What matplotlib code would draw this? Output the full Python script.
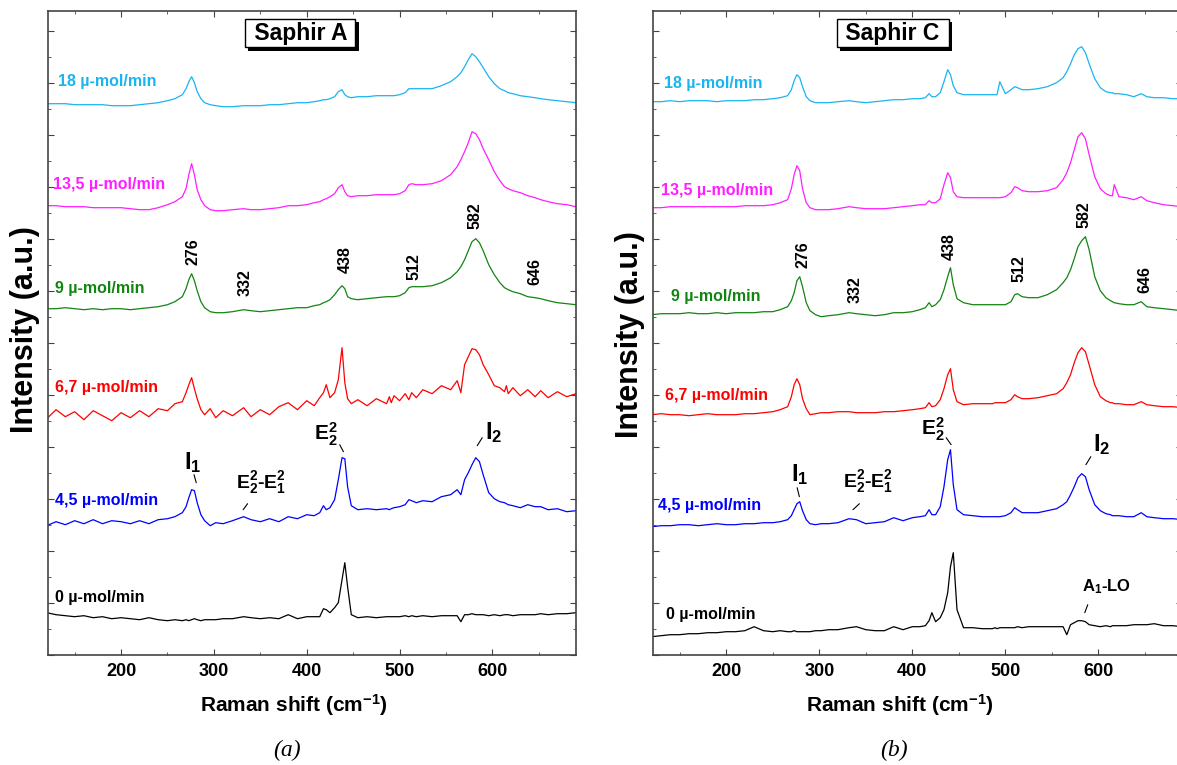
import matplotlib
matplotlib.use("Agg")
import matplotlib.pyplot as plt
import matplotlib.patheffects as pe
from matplotlib.ticker import MultipleLocator

plt.rcParams['font.family'] = ['Liberation Sans', 'DejaVu Sans']
plt.rcParams['font.weight'] = 'bold'
plt.rcParams['mathtext.fontset'] = 'custom'
plt.rcParams['mathtext.rm'] = 'Liberation Sans:bold'
plt.rcParams['mathtext.bf'] = 'Liberation Sans:bold'
plt.rcParams['mathtext.it'] = 'Liberation Sans:bold'

# Raman shift grid (cm-1), shared by all spectra
shift = [
    120, 130, 140, 150, 160, 170, 180, 190, 200, 210,
    220, 230, 240, 250, 258, 266, 270, 273, 276, 279,
    282, 286, 290, 296, 302, 310, 320, 332, 340, 350,
    360, 370, 380, 390, 400, 408, 414, 418, 421, 425,
    430, 434, 438, 441, 444, 448, 455, 465, 475, 486,
    489, 491, 494, 500, 506, 510, 513, 518, 525, 535,
    545, 555, 562, 566, 570, 574, 578, 582, 586, 590,
    596, 602, 608, 613, 615, 617, 622, 630, 638, 646,
    652, 660, 670, 680, 690]

rates = ['18 µ-mol/min', '13,5 µ-mol/min', '9 µ-mol/min',
         '6,7 µ-mol/min', '4,5 µ-mol/min', '0 µ-mol/min']
colors = ['#1AB4F0', '#FF1EFF', '#128412', '#FF0000', '#0000FF', '#000000']

# ---- Saphir A (stacked intensities, a.u.)
a_18 = [
    551, 551, 551, 550, 550, 550, 550, 549, 549, 549,
    550, 551, 552, 554, 556, 560, 566, 573, 578, 572,
    563, 556, 552, 550, 549, 548, 548, 549, 549, 549,
    550, 550, 551, 552, 552, 553, 554, 555, 555, 556,
    558, 563, 565, 560, 558, 557, 558, 558, 559, 559,
    559, 559, 559, 560, 562, 566, 566, 566, 566, 566,
    569, 573, 578, 582, 588, 595, 601, 598, 593, 587,
    578, 571, 566, 564, 563, 562, 561, 559, 558, 557,
    556, 555, 554, 553, 552]
a_13 = [
    449, 449, 448, 448, 448, 447, 447, 447, 447, 446,
    445, 445, 447, 450, 453, 458, 466, 480, 491, 480,
    465, 455, 449, 445, 444, 444, 445, 446, 445, 445,
    446, 447, 449, 449, 450, 452, 453, 455, 456, 458,
    461, 467, 470, 463, 459, 458, 459, 459, 460, 460,
    460, 460, 460, 461, 464, 470, 471, 470, 470, 471,
    474, 480, 488, 495, 503, 512, 523, 521, 515, 506,
    495, 483, 474, 468, 467, 466, 464, 462, 459, 457,
    455, 453, 451, 450, 448]
a_9 = [
    346, 346, 347, 346, 345, 346, 345, 346, 346, 345,
    346, 347, 348, 350, 353, 358, 366, 375, 381, 374,
    364, 353, 347, 343, 342, 342, 343, 345, 344, 343,
    344, 345, 346, 347, 347, 349, 350, 352, 353, 355,
    360, 365, 369, 366, 358, 356, 355, 356, 357, 358,
    358, 358, 358, 359, 362, 367, 368, 368, 368, 369,
    372, 377, 383, 388, 395, 404, 413, 416, 412, 404,
    390, 380, 372, 367, 366, 365, 363, 361, 358, 357,
    356, 354, 352, 351, 350]
a_67 = [
    236, 245, 238, 243, 235, 244, 239, 234, 242, 237,
    244, 238, 246, 244, 251, 253, 262, 270, 277, 266,
    256, 245, 240, 246, 237, 244, 239, 247, 238, 245,
    240, 248, 252, 245, 254, 249, 257, 262, 270, 257,
    262, 275, 307, 272, 256, 251, 255, 249, 256, 251,
    258, 252, 259, 254, 261, 255, 262, 257, 265, 261,
    269, 265, 274, 262, 290, 298, 306, 305, 300, 290,
    280, 269, 267, 263, 269, 261, 267, 259, 265, 258,
    264, 257, 263, 258, 261]
a_45 = [
    129, 133, 130, 134, 131, 135, 131, 134, 133, 131,
    134, 131, 135, 136, 138, 142, 148, 157, 165, 164,
    152, 140, 134, 129, 132, 131, 134, 138, 135, 133,
    136, 133, 138, 136, 140, 139, 142, 149, 145, 147,
    155, 175, 197, 196, 168, 149, 145, 146, 145, 146,
    145, 146, 147, 148, 150, 155, 154, 152, 154, 153,
    158, 160, 165, 160, 175, 182, 190, 197, 193, 180,
    162, 156, 153, 152, 151, 150, 149, 147, 150, 148,
    148, 145, 146, 143, 144]
a_0 = [
    42, 40, 39, 38, 39, 37, 38, 36, 37, 36,
    35, 37, 35, 34, 35, 34, 35, 34, 35, 36,
    35, 34, 35, 35, 35, 36, 36, 38, 37, 36,
    37, 36, 40, 36, 38, 38, 38, 46, 45, 42,
    47, 52, 75, 92, 68, 40, 37, 38, 37, 38,
    38, 38, 38, 38, 39, 38, 39, 38, 39, 38,
    39, 39, 39, 33, 40, 40, 41, 40, 40, 40,
    39, 40, 39, 40, 40, 40, 39, 40, 40, 40,
    41, 40, 41, 41, 42]

# ---- Saphir C
c_18 = [
    553, 553, 554, 553, 554, 554, 554, 553, 554, 554,
    554, 555, 555, 556, 557, 559, 565, 574, 580, 577,
    568, 558, 554, 552, 552, 552, 553, 554, 553, 552,
    553, 554, 555, 555, 556, 556, 557, 561, 558, 558,
    562, 573, 585, 580, 569, 562, 560, 560, 560, 560,
    560, 560, 573, 561, 565, 568, 567, 565, 565, 566,
    568, 572, 577, 583, 591, 600, 606, 608, 602, 591,
    576, 567, 563, 562, 562, 561, 561, 560, 558, 561,
    558, 557, 557, 556, 556]
c_13 = [
    447, 447, 448, 448, 448, 448, 448, 448, 448, 448,
    449, 449, 449, 450, 452, 455, 466, 480, 489, 484,
    466, 452, 447, 445, 445, 445, 446, 448, 447, 446,
    446, 446, 447, 448, 449, 450, 450, 454, 452, 452,
    456, 470, 482, 477, 463, 458, 457, 457, 457, 457,
    457, 457, 457, 458, 462, 468, 467, 464, 463, 463,
    464, 467, 475, 482, 492, 505, 518, 522, 516, 500,
    478, 466, 461, 459, 459, 470, 458, 457, 455, 458,
    454, 452, 450, 449, 448]
c_9 = [
    340, 341, 341, 341, 342, 341, 341, 342, 341, 342,
    342, 342, 343, 343, 345, 348, 354, 362, 374, 378,
    368, 352, 344, 340, 338, 339, 340, 342, 341, 340,
    339, 340, 342, 342, 343, 345, 347, 352, 348, 350,
    355, 365, 378, 387, 370, 356, 352, 350, 350, 350,
    350, 350, 350, 350, 353, 360, 361, 358, 357, 357,
    360, 365, 372, 377, 385, 396, 408, 414, 418, 405,
    378, 364, 357, 354, 353, 352, 351, 350, 350, 353,
    348, 347, 346, 345, 344]
c_67 = [
    240, 241, 240, 240, 239, 240, 241, 240, 240, 240,
    241, 241, 242, 243, 245, 248, 258, 270, 276, 270,
    256, 246, 240, 241, 242, 242, 243, 243, 242, 242,
    242, 243, 243, 244, 245, 246, 247, 252, 248, 249,
    255, 266, 280, 286, 265, 253, 250, 251, 251, 251,
    252, 252, 252, 252, 255, 260, 258, 256, 256, 257,
    259, 261, 266, 272, 280, 292, 302, 307, 303, 290,
    270, 258, 254, 252, 252, 251, 251, 250, 250, 253,
    250, 249, 248, 248, 247]
c_45 = [
    128, 129, 129, 130, 130, 129, 130, 131, 130, 130,
    131, 131, 132, 132, 133, 135, 139, 145, 151, 153,
    144, 135, 131, 130, 131, 131, 132, 136, 135, 131,
    132, 133, 137, 134, 137, 138, 139, 145, 140, 140,
    148, 168, 195, 205, 170, 145, 140, 139, 138, 138,
    138, 138, 138, 139, 142, 147, 145, 142, 142, 142,
    144, 146, 150, 153, 160, 168, 177, 181, 178, 165,
    150, 144, 141, 140, 139, 139, 139, 138, 138, 142,
    138, 137, 136, 136, 135]
c_0 = [
    18, 19, 20, 20, 21, 21, 22, 22, 23, 23,
    24, 28, 24, 23, 24, 23, 23, 24, 23, 23,
    23, 23, 23, 24, 24, 25, 25, 27, 28, 25,
    24, 24, 28, 25, 28, 28, 29, 34, 42, 33,
    37, 45, 62, 88, 102, 45, 27, 27, 26, 26,
    27, 26, 27, 27, 27, 27, 28, 27, 28, 28,
    28, 28, 28, 20, 30, 32, 34, 34, 33, 30,
    29, 28, 29, 28, 29, 29, 29, 29, 30, 30,
    30, 31, 29, 29, 28]

peak_labels = ['276', '332', '438', '512', '582', '646']


def draw_panel(ax, spectra, name_xy, peak_xy, title, title_x, notes):
    for y, c, name, (tx, ty) in zip(spectra, colors, rates, name_xy):
        ax.plot(shift, y, color=c, lw=0.9)
        ax.text(tx, ty, name, color=c, fontsize=11.5, ha='left', va='center')
    for lab, (px, py) in zip(peak_labels, peak_xy):
        ax.text(px, py, lab, rotation=90, fontsize=11.5, ha='center', va='center')
    for txt, (tx, ty), p0, p1, fs in notes:
        ax.text(tx, ty, txt, fontsize=fs, ha='center', va='center')
        ax.annotate('', xy=p1, xytext=p0,
                    arrowprops=dict(arrowstyle='-', lw=0.8, color='k',
                                    shrinkA=0, shrinkB=0))
    t = ax.text(title_x, 0.965, ' ' + title + ' ', transform=ax.transAxes,
                fontsize=16.5, ha='center', va='center',
                bbox=dict(boxstyle='square,pad=0.12', fc='white', ec='black', lw=1))
    t.get_bbox_patch().set_path_effects(
        [pe.SimplePatchShadow(offset=(2.5, -2.5), shadow_rgbFace='black', alpha=1),
         pe.Normal()])
    ax.set_xlim(121, 690)
    ax.set_ylim(0, 644)
    ax.xaxis.set_major_locator(MultipleLocator(100))
    ax.xaxis.set_minor_locator(MultipleLocator(50))
    ax.yaxis.set_major_locator(MultipleLocator(52))
    ax.yaxis.set_minor_locator(MultipleLocator(26))
    ax.tick_params(which='both', direction='in', top=True, right=True,
                   labelleft=False, labelsize=13, pad=6, color='#444444')
    ax.tick_params(which='major', length=4)
    ax.tick_params(which='minor', length=2.5)
    for s in ax.spines.values():
        s.set_color('#444444')
        s.set_linewidth(1.2)


W, H = 1177, 765
fig = plt.figure(figsize=(W / 100, H / 100), dpi=100)
ax1 = fig.add_axes([47.7 / W, (H - 654.7) / H, 528.3 / W, 644 / H])
ax2 = fig.add_axes([652.7 / W, (H - 654.7) / H, 529.5 / W, 644 / H])

notes_a = [
    (r'$\mathbf{I_1}$', (277, 192), (278.6, 180), (281, 172), 17),
    (r'$\mathbf{E_2^2}$-$\mathbf{E_1^2}$', (351, 172), (331.5, 145), (336.3, 151), 14),
    (r'$\mathbf{E_2^2}$', (420, 220), (435.5, 210), (439.5, 203), 15),
    (r'$\mathbf{I_2}$', (601, 222), (589, 217), (583.6, 209), 17),
]
notes_c = [
    (r'$\mathbf{I_1}$', (279, 180), (276.2, 167), (278.6, 158), 17),
    (r'$\mathbf{E_2^2}$-$\mathbf{E_1^2}$', (353, 173), (336.2, 145), (343.1, 151), 14),
    (r'$\mathbf{E_2^2}$', (422, 225), (436.4, 217), (441.7, 210), 15),
    (r'$\mathbf{I_2}$', (603, 210), (591.8, 198), (586.5, 190), 17),
    (r'$\mathbf{A_1}$-LO', (609, 68), (588.5, 50), (585.3, 42), 12),
]

draw_panel(ax1, [a_18, a_13, a_9, a_67, a_45, a_0],
           [(132, 573), (127, 470), (129, 366), (129, 267), (129, 154), (129, 57)],
           [(278, 403), (334, 372), (442, 395), (515, 388), (581, 439), (646, 383)],
           'Saphir A', 0.478, notes_a)
draw_panel(ax2, [c_18, c_13, c_9, c_67, c_45, c_0],
           [(133, 571), (130, 464), (141, 358), (134, 259), (127, 149), (135, 40)],
           [(283, 400), (338, 365), (440, 408), (515, 386), (585, 440), (650, 375)],
           'Saphir C', 0.453, notes_c)

for xc, yl, yc in [(25, 330, 294), (630, 335, 900)]:
    fig.text(xc / W, 1 - yl / H, 'Intensity (a.u.)', rotation=90,
             fontsize=22, ha='center', va='center')
    fig.text(yc / W, 1 - 705 / H, r'Raman shift (cm$^{-1}$)',
             fontsize=15, ha='center', va='center')

fig.text(287 / W, 1 - 750 / H, '(a)', family='Liberation Serif', style='italic',
         weight='normal', fontsize=17, ha='center', va='center')
fig.text(894 / W, 1 - 750 / H, '(b)', family='Liberation Serif', style='italic',
         weight='normal', fontsize=17, ha='center', va='center')

fig.savefig('out.png', dpi=100)
